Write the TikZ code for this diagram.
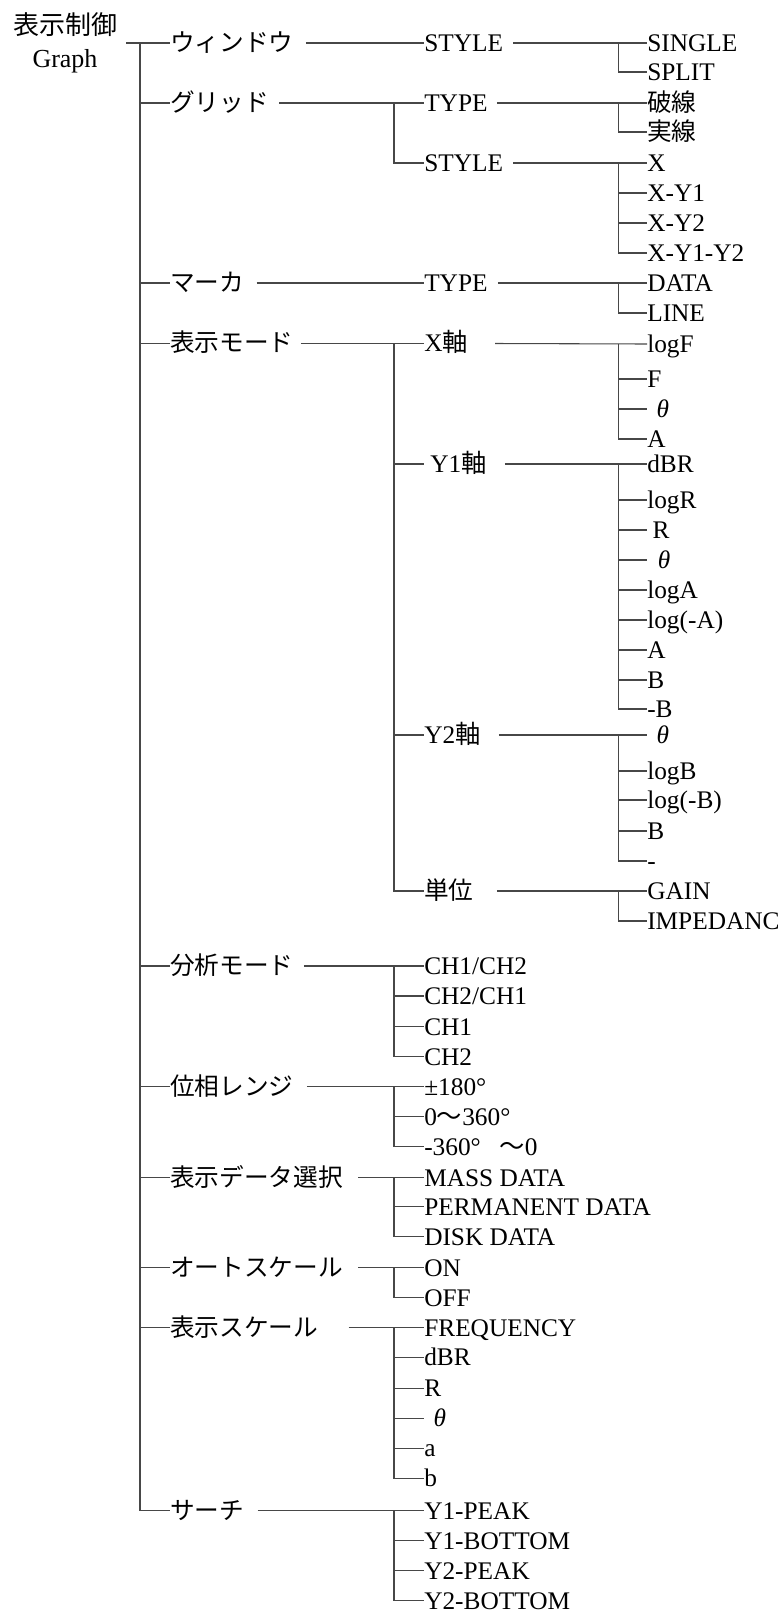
\documentclass[tikz,border=0pt]{standalone}
\usepackage{fontspec}
\setmainfont{Liberation Serif}
\newfontfamily\cjk{Noto Sans CJK JP}

\begin{document}
\begin{tikzpicture}[x=0.75pt,y=0.75pt,yscale=-1,xscale=1,
  br/.style={draw=black!72,line width=0.8pt},
  lbl/.style={anchor=west,inner sep=0pt,text height=12.6pt,text depth=0pt,font=\fontsize{19}{23}\selectfont},
  jp/.style={lbl,font=\cjk\fontsize{18.5}{23}\selectfont}]
\useasboundingbox (0,0) rectangle (783,1614);

% root
\node [align=center,inner sep=0pt,font=\fontsize{19.5}{24.75}\selectfont] (root) at (65,43) {{\cjk 表示制御}\\Graph};

% first level
\node [jp] (win) at (170,43) {ウィンドウ};
\node [jp] (grid) at (170,103) {グリッド};
\node [jp] (marker) at (170,283) {マーカ};
\node [jp] (dmode) at (170,343.5) {表示モード};
\node [jp] (amode) at (170,966) {分析モード};
\node [jp] (prange) at (170,1086.7) {位相レンジ};
\node [jp] (dsel) at (170,1177.7) {表示データ選択};
\node [jp] (ascale) at (170,1267.7) {オートスケール};
\node [jp] (dscale) at (170,1327.7) {表示スケール};
\node [jp] (search) at (170,1510.7) {サーチ};

% second level
\node [lbl] (winSty) at (424,43) {STYLE};
\node [lbl] (gridTyp) at (424,103) {TYPE};
\node [lbl] (gridSty) at (424,163) {STYLE};
\node [lbl] (markTyp) at (424,283) {TYPE};
\node [lbl] (xAx) at (424,343.5) {X{\cjk 軸}};
\node [lbl] (yOneAx) at (424,464) {\hspace{4.5pt}Y1{\cjk 軸}};
\node [lbl] (yTwoAx) at (424,735) {Y2{\cjk 軸}};
\node [jp] (unitSel) at (424,891) {単位};

\foreach \nm/\yy/\tx in {chA/966/{CH1/CH2},chB/996/{CH2/CH1},chC/1026.7/CH1,chD/1056.7/CH2,
  prA/1086.7/{±180°},prB/1116.7/{0{\cjk 〜}360°},prC/1146.7/{-360°\hspace{14pt}{\cjk 〜}0},
  dsA/1177.7/MASS DATA,dsB/1206.7/PERMANENT DATA,dsC/1236.7/DISK DATA,
  asOn/1267.7/ON,asOff/1297.7/OFF,
  scA/1327.7/FREQUENCY,scB/1357.5/dBR,scC/1388.3/R,scD/1418.3/{\hspace{7pt}\textit{θ}},scE/1448.3/a,scF/1478.3/b,
  srA/1510.7/Y1-PEAK,srB/1540.7/Y1-BOTTOM,srC/1570.7/Y2-PEAK,srD/1600.7/Y2-BOTTOM}
  \node [lbl] (\nm) at (424,\yy) {\tx};

% leaves
\foreach \nm/\yy/\tx in {sgl/43/SINGLE,spl/72/SPLIT,
  gx/163/X,gxa/193/X-Y1,gxb/223/X-Y2,gxc/253/X-Y1-Y2,
  mdat/283/DATA,mlin/313/LINE,
  xa/344/logF,xb/379/F,xc/409/{\hspace{7pt}\textit{θ}},xd/439/A,
  ra/464/dBR,rb/500/logR,rc/530/{\hspace{4pt}R},rd/560/{\hspace{8pt}\textit{θ}},re/590/logA,rf/620/log(-A),rg/650/A,rh/680/B,ri/709/-B,
  ta/735/{\hspace{7pt}\textit{θ}},tb/771/logB,tc/800/log(-B),td/831/B,te/861/-,
  ua/891/GAIN,ub/921/IMPEDANC}
  \node [lbl] (\nm) at (647,\yy) {\tx};
\node [jp] (dash) at (647,103) {破線};
\node [jp] (solid) at (647,132) {実線};

% trunk
\draw [br] ([xshift=6.75pt]root.east) -- (win.west);
\foreach \n in {grid,marker,dmode,amode,prange,dsel,ascale,dscale,search}
  \draw [br] ([xshift=-22.5pt]win.west) |- (\n.west);

% first to second level
\draw [br] ([xshift=9pt]win.east) -- (winSty.west);
\draw [br] ([xshift=7.5pt]grid.east) -- (gridTyp.west);
\draw [br] ([xshift=-22.5pt]gridTyp.west) |- (gridSty.west);
\draw [br] ([xshift=9pt]marker.east) -- (markTyp.west);
\draw [br] ([xshift=5.25pt]dmode.east) -- (xAx.west);
\foreach \c in {yOneAx,yTwoAx,unitSel}
  \draw [br] ([xshift=-22.5pt]xAx.west) |- (\c.west);
\draw [br] ([xshift=7.5pt]amode.east) -- (chA.west);
\foreach \c in {chB,chC,chD}
  \draw [br] ([xshift=-22.5pt]chA.west) |- (\c.west);
\draw [br] ([xshift=9.75pt]prange.east) -- (prA.west);
\foreach \c in {prB,prC}
  \draw [br] ([xshift=-22.5pt]prA.west) |- (\c.west);
\draw [br] ([xshift=11.25pt]dsel.east) -- (dsA.west);
\foreach \c in {dsB,dsC}
  \draw [br] ([xshift=-22.5pt]dsA.west) |- (\c.west);
\draw [br] ([xshift=11.25pt]ascale.east) -- (asOn.west);
\draw [br] ([xshift=-22.5pt]asOn.west) |- (asOff.west);
\draw [br] ([xshift=22.5pt]dscale.east) -- (scA.west);
\foreach \c in {scB,scC,scD,scE,scF}
  \draw [br] ([xshift=-22.5pt]scA.west) |- (\c.west);
\draw [br] ([xshift=9.75pt]search.east) -- (srA.west);
\foreach \c in {srB,srC,srD}
  \draw [br] ([xshift=-22.5pt]srA.west) |- (\c.west);

% second level to leaves
\draw [br] ([xshift=7.5pt]winSty.east) -- (sgl.west);
\draw [br] ([xshift=-21.4pt]sgl.west) |- (spl.west);
\draw [br] ([xshift=6.75pt]gridTyp.east) -- (dash.west);
\draw [br] ([xshift=-21.4pt]dash.west) |- (solid.west);
\draw [br] ([xshift=7.5pt]gridSty.east) -- (gx.west);
\foreach \c in {gxa,gxb,gxc}
  \draw [br] ([xshift=-21.4pt]gx.west) |- (\c.west);
\draw [br] ([xshift=7.5pt]markTyp.east) -- (mdat.west);
\draw [br] ([xshift=-21.4pt]mdat.west) |- (mlin.west);
\draw [br] ([xshift=20.25pt]xAx.east) -- (xa.west);
\foreach \c in {xb,xc,xd}
  \draw [br] ([xshift=-21.4pt]xa.west) |- (\c.west);
\draw [br] ([xshift=13.5pt]yOneAx.east) -- (ra.west);
\foreach \c in {rb,rc,rd,re,rf,rg,rh,ri}
  \draw [br] ([xshift=-21.4pt]ra.west) |- (\c.west);
\draw [br] ([xshift=13.5pt]yTwoAx.east) -- (ta.west);
\foreach \c in {tb,tc,td,te}
  \draw [br] ([xshift=-21.4pt]ta.west) |- (\c.west);
\draw [br] ([xshift=17.25pt]unitSel.east) -- (ua.west);
\draw [br] ([xshift=-21.4pt]ua.west) |- (ub.west);

\end{tikzpicture}
\end{document}
